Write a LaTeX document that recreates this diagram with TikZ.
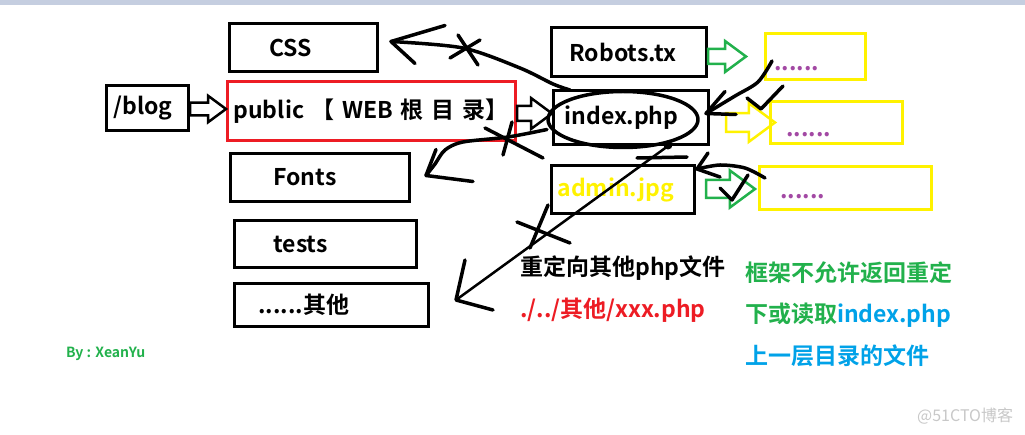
\documentclass[tikz,border=0pt]{standalone}
\usepackage{fontspec}
\setmainfont{Noto Sans CJK SC}[BoldFont={Noto Sans CJK SC Bold}]
\usetikzlibrary{calc}

\definecolor{paintred}{HTML}{ED1C24}
\definecolor{paintyellow}{HTML}{FFF200}
\definecolor{paintgreen}{HTML}{22B14C}
\definecolor{paintpurple}{HTML}{A349A4}
\definecolor{paintblue}{HTML}{00A2E8}
\definecolor{barblue}{HTML}{C5CEE0}
\definecolor{markgray}{HTML}{C8C8C8}

\tikzstyle{dirbox} = [
    rectangle,
    anchor=north west,
    inner ysep=0pt,
    align=left,
    line width=3pt,
    draw=black,
    font=\bfseries\fontsize{23}{26}\selectfont
]
\tikzstyle{leafbox} = [
    dirbox,
    draw=paintyellow,
    text=paintpurple,
    text height=28pt,
    text depth=0pt
]
\tikzstyle{note} = [
    anchor=west,
    inner sep=0pt,
    font=\bfseries\fontsize{23}{26}\selectfont
]
\tikzstyle{sketch} = [line width=3.5pt, line cap=round, line join=round]
\tikzstyle{fat} = [line width=2.5pt, line join=miter]

% hollow paint-style arrow from #3 to #4, #1 = size factor
\newcommand{\fatarrow}[4][1]{%
  \draw [fat, #2] let \p1 = #3, \p2 = #4 in
    (\x1, \y2+#1*7.5pt) -- (\x2-#1*21pt, \y2+#1*7.5pt) -- (\x2-#1*21pt, \y2+#1*15.5pt)
    -- (\x2, \y2) -- (\x2-#1*21pt, \y2-#1*15.5pt) -- (\x2-#1*21pt, \y2-#1*7.5pt)
    -- (\x1, \y2-#1*7.5pt) -- cycle;}

\begin{document}
\begin{tikzpicture}[x=1pt, y=-1pt]

\fill [white] (0,0) rectangle (1025,435);
\useasboundingbox (0,0) rectangle (1025,435);
\fill [barblue] (0,0) rectangle (1025,5);

% left column
\node (blog) [dirbox, minimum height=45pt, inner xsep=7pt, text width=68pt]
at (105,84) {/blog};

\node (css) [dirbox, minimum height=48pt, inner xsep=40pt, text width=68pt]
at (228,22) {CSS};

\node (public) [dirbox, draw=paintred, minimum height=59pt, inner xsep=6pt, text width=276pt]
at (226,80) {public 【 WEB 根 目 录】};

\node (fonts) [dirbox, minimum height=48pt, inner xsep=43pt, text width=93pt]
at (229,152) {Fonts};

\node (tests) [dirbox, minimum height=47pt, inner xsep=39pt, text width=104pt]
at (233,219) {tests};

\node (other) [dirbox, minimum height=43pt, inner xsep=24pt, text width=146pt]
at (233,282) {......其他};

% public folder
\node (robots) [dirbox, minimum height=49pt, inner xsep=18pt, text width=119pt]
at (550,26) {Robots.tx};

\node (index) [dirbox, minimum height=54pt, inner xsep=11pt, text width=133pt]
at (552,89) {index.php};

\node (admin) [dirbox, text=paintyellow, minimum height=48pt, inner xsep=6pt, text width=131pt]
at (550,164) {admin.jpg};

% yellow boxes
\node (y1) [leafbox, minimum height=46pt, inner xsep=9pt, text width=82pt]
at (764,32) {......};

\node (y2) [leafbox, minimum height=42pt, inner xsep=16pt, text width=100pt]
at (769,100) {......};

\node (y3) [leafbox, text height=21pt, minimum height=43pt, inner xsep=21pt, text width=130pt]
at (758,165) {......};

% notes
\node (redirect) [note] at (520,268) {重定向其他php文件};
\node (relpath) [note, text=paintred] at (520,310) {./../其他/xxx.php};
\node (rule1) [note, text=paintgreen] at (745,273) {框架不允许返回重定};
\node (rule2) [note, text=paintgreen] at (745,315) {下或读取\textcolor{paintblue}{index.php}};
\node (rule3) [note, text=paintblue] at (745,356) {上一层目录的文件};
\node (author) [note, text=paintgreen, font=\bfseries\fontsize{14}{16}\selectfont]
at (66,354) {By : XeanYu};
\node (mark) [note, text=markgray, font=\fontsize{16}{19}\selectfont]
at (917,416) {@51CTO博客};

% hollow arrows
\fatarrow[0.85]{draw=black}{(blog.east)}{($(public.west)+(0,-2)$)}
\fatarrow{draw=black}{(public.east)}{($(index.west)+(0,-4)$)}
\fatarrow{draw=paintgreen}{(robots.east)}{($(y1.west)+(-18,0)$)}
\fatarrow[1.25]{draw=paintyellow}{($(index.east)+(16,0)$)}{($(y2.west)+(6,0)$)}
\fatarrow[1.2]{draw=paintgreen}{($(admin.east)+(10,0)$)}{($(y3.west)+(-3,1)$)}

% hand drawn marks
\coordinate (tipcss) at ($(css.east)+(12,-6)$);
\coordinate (tipfonts) at ($(fonts.east)+(15,-2)$);
\coordinate (tipother) at ($(other.east)+(26,-5)$);
\coordinate (tipindex) at ($(index.east)+(-4,-4)$);
\coordinate (tipadmin) at ($(admin.north east)+(1,5)$);

\draw [sketch] ($(index.center)+(-8,2)$) ellipse [x radius=75pt, y radius=28pt];

\draw [sketch] plot [smooth] coordinates
  {($(index.north west)+(18,1)$) (553,84) (520,68) (463,48) (tipcss)};
\draw [sketch] (tipcss) -- ++(54,-16) (tipcss) -- ++(24,22);
\draw [sketch] (458,35) -- (478,65) (450,58) -- (480,40);

\draw [sketch] plot [smooth] coordinates
  {($(index.west)+(-5,12)$) (508,137) (463,142) (445,150) (435,164) (tipfonts)};
\draw [sketch] (tipfonts) -- ++(47,6) (tipfonts) -- ++(10,-26);
\draw [sketch] (485,128) -- (543,158) (512,122) -- (503,155);

\draw [sketch, line width=2.5pt] ($(index.south)+(37,0)$) -- (tipother);
\fill ($(index.south)+(37,-1)$) circle (4.5pt);
\draw [sketch] (637,158) -- (687,157);
\draw [sketch] (tipother) -- ++(9,-40) (tipother) -- ++(37,10);
\draw [sketch] (517,222) -- (570,243) (548,205) -- (530,248);

\draw [sketch] plot [smooth] coordinates
  {($(y1.south west)+(8,-20)$) (758,82) (735,96) (tipindex)};
\draw [sketch] (tipindex) -- ++(19,-22) (tipindex) -- ++(30,1);
\draw [sketch] (747,98) -- (761,109) -- (783,86);

\draw [sketch] plot [smooth] coordinates
  {($(y3.north west)+(7,13)$) (745,168) (720,165) (tipadmin)};
\draw [sketch] (tipadmin) -- ++(11,-16) (tipadmin) -- ++(23,8);
\draw [sketch] (720,188) -- (732,200) -- (748,175);

\end{tikzpicture}
\end{document}
